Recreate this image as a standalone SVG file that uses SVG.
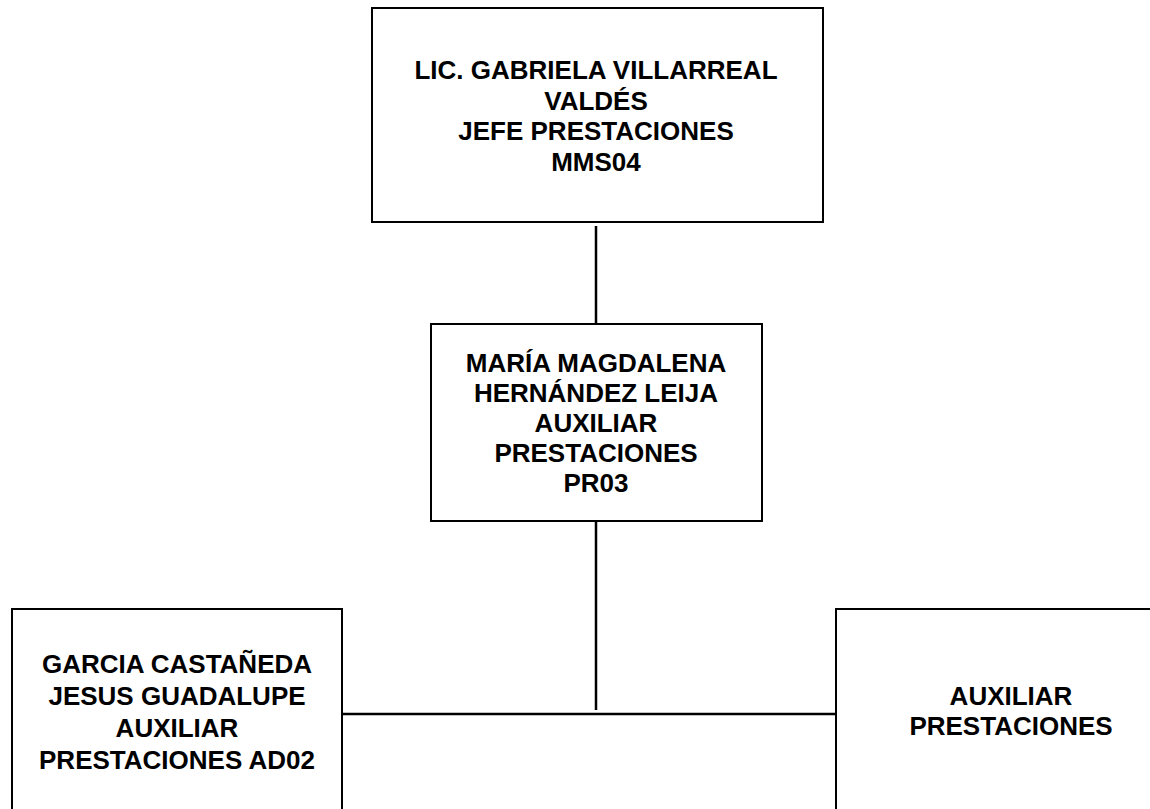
<svg xmlns="http://www.w3.org/2000/svg" width="1150" height="809" viewBox="0 0 1150 809">
<style>
.box{fill:#fff;stroke:#000;stroke-width:2}
.ln{stroke:#000;stroke-width:2.5;fill:none}
text{font-family:"Liberation Sans",Arial,sans-serif;font-weight:bold;font-size:26px;fill:#000;text-anchor:middle}
</style>
<rect width="1150" height="809" fill="#fff"/>
<g id="connectors">
<line class="ln" x1="596" y1="226" x2="596" y2="324"/>
<line class="ln" x1="596" y1="521" x2="596" y2="710"/>
<line class="ln" x1="342" y1="714" x2="836" y2="714"/>
</g>
<g id="node-jefe">
<rect class="box" x="372" y="8" width="451" height="214"/>
<text x="596" y="79">LIC. GABRIELA VILLARREAL</text>
<text x="596" y="110">VALDÉS</text>
<text x="596" y="140">JEFE PRESTACIONES</text>
<text x="596" y="171">MMS04</text>
</g>
<g id="node-maria">
<rect class="box" x="431" y="324" width="331" height="197"/>
<text x="596" y="372">MARÍA MAGDALENA</text>
<text x="596" y="402">HERNÁNDEZ LEIJA</text>
<text x="596" y="432">AUXILIAR</text>
<text x="596" y="462">PRESTACIONES</text>
<text x="596" y="492">PR03</text>
</g>
<g id="node-garcia">
<rect class="box" x="12" y="609" width="330" height="220"/>
<text x="177" y="673">GARCIA CASTAÑEDA</text>
<text x="177" y="705">JESUS GUADALUPE</text>
<text x="177" y="737">AUXILIAR</text>
<text x="177" y="769">PRESTACIONES AD02</text>
</g>
<g id="node-auxiliar">
<rect class="box" x="836" y="609" width="340" height="220"/>
<text x="1011" y="705">AUXILIAR</text>
<text x="1011" y="735">PRESTACIONES</text>
</g>
</svg>
